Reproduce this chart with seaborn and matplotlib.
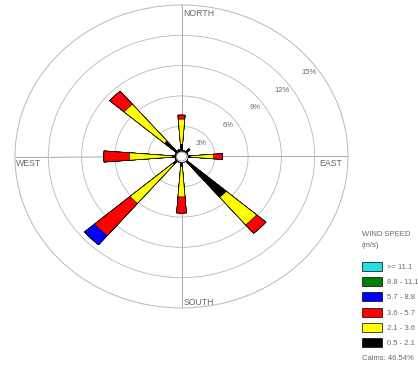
import numpy as np
import pandas as pd
import matplotlib
matplotlib.use("Agg")
import matplotlib.pyplot as plt
import seaborn as sns
from matplotlib.patches import Patch

# ---------------- data ----------------
directions = ["N", "NNE", "NE", "ENE", "E", "ESE", "SE", "SSE",
              "S", "SSW", "SW", "WSW", "W", "WNW", "NW", "NNW"]
direction_deg = [0, 22.5, 45, 67.5, 90, 112.5, 135, 157.5,
                 180, 202.5, 225, 247.5, 270, 292.5, 315, 337.5]
speed_classes = ["0.5 - 2.1", "2.1 - 3.6", "3.6 - 5.7", "5.7 - 8.8", "8.8 - 11.1", ">= 11.1"]
class_colors = ["#000000", "#FFFF00", "#FF0000", "#0000FF", "#008000", "#22E0E0"]

freq_05_21 = [1.2, 0.6, 1.0, 0.6, 0.8, 0.6, 5.3, 0.6, 1.0, 0.6, 1.0, 0.6, 0.8, 0.6, 2.0, 0.7]
freq_21_36 = [2.5, 0.0, 0.0, 0.0, 2.1, 0.0, 3.6, 0.0, 3.0, 0.0, 5.1, 0.0, 3.9, 0.0, 4.8, 0.0]
freq_36_57 = [0.4, 0.0, 0.0, 0.0, 0.8, 0.0, 1.1, 0.0, 1.6, 0.0, 4.2, 0.0, 2.3, 0.0, 1.7, 0.0]
freq_57_88 = [0.0, 0.0, 0.0, 0.0, 0.0, 0.0, 0.0, 0.0, 0.0, 0.0, 1.2, 0.0, 0.0, 0.0, 0.0, 0.0]
freq_88_111 = [0.0] * 16
freq_ge_111 = [0.0] * 16

ring_values = [3, 6, 9, 12, 15]
ring_labels = ["3%", "6%", "9%", "12%", "15%"]
compass_labels = ["NORTH", "EAST", "SOUTH", "WEST"]
legend_title = "WIND SPEED\n(m/s)"
calms_text = "Calms: 46.54%"

# ---------------- styling ----------------
sns.set_style("white")
plt.rcParams["font.family"] = ["Liberation Sans", "DejaVu Sans"]
TXT = "#6a6a6a"
GRID = "#b8b8b8"
CALM_R = 0.45
R_MAX = 15

fig = plt.figure(figsize=(4.18, 3.68), dpi=100)
ax = fig.add_axes([15 / 418, 60 / 368, 333 / 418, 303 / 368], projection="polar")
ax.set_theta_zero_location("N")
ax.set_theta_direction(-1)

classes = [freq_05_21, freq_21_36, freq_36_57, freq_57_88, freq_88_111, freq_ge_111]
cum = np.cumsum(np.array(classes), axis=0)
theta = np.radians(direction_deg)

ax.set_axisbelow(True)
for k in reversed(range(len(classes))):
    df = pd.DataFrame({"theta": theta, "freq": cum[k], "direction": directions})
    sns.barplot(data=df, x="theta", y="freq", native_scale=True, orient="x",
                color=class_colors[k], saturation=1, width=9 / 22.5,
                edgecolor="black", linewidth=0.45, errorbar=None, ax=ax, zorder=3)

# calm circle in centre
tt = np.linspace(0, 2 * np.pi, 120)
ax.fill_between(tt, 0, CALM_R, color="white", zorder=6)
ax.plot(tt, np.full_like(tt, CALM_R), color="#888888", lw=0.5, zorder=7)

ax.set_aspect("auto")
ax.set_position([15 / 418, 60 / 368, 333 / 418, 303 / 368])
ax.set_ylim(0, R_MAX)
ax.set_xticks(np.radians([0, 90, 180, 270]))
ax.set_xticklabels([])
ax.set_yticks(ring_values[:-1])
ax.set_yticklabels([])
ax.set_xlabel("")
ax.set_ylabel("")
ax.xaxis.grid(True, color="#9a9a9a", lw=0.6)
ax.yaxis.grid(True, color=GRID, lw=0.6)
ax.spines["polar"].set_color(GRID)
ax.spines["polar"].set_linewidth(0.7)

# ring labels
for v, lab in zip(ring_values, ring_labels):
    ax.text(np.radians(54), v - 0.8, lab, fontsize=5.5, color=TXT,
            ha="center", va="center", zorder=8)

# compass labels
ax.annotate(compass_labels[0], xy=(0, R_MAX), xytext=(1.5, -5.8), textcoords="offset points",
            ha="left", va="center", fontsize=6.3, color=TXT, annotation_clip=False)
ax.annotate(compass_labels[1], xy=(np.pi / 2, R_MAX), xytext=(-4.3, -5.0), textcoords="offset points",
            ha="right", va="center", fontsize=6.3, color=TXT, annotation_clip=False)
ax.annotate(compass_labels[2], xy=(np.pi, R_MAX), xytext=(1.5, 4.3), textcoords="offset points",
            ha="left", va="center", fontsize=6.3, color=TXT, annotation_clip=False)
ax.annotate(compass_labels[3], xy=(3 * np.pi / 2, R_MAX), xytext=(0.5, -5.0), textcoords="offset points",
            ha="left", va="center", fontsize=6.3, color=TXT, annotation_clip=False)

# legend
fig.text(362 / 418, 1 - 231 / 368, legend_title, fontsize=5.5, color=TXT,
         va="top", ha="left", linespacing=1.8)
handles = [Patch(facecolor=c, edgecolor="black", lw=0.5) for c in reversed(class_colors)]
labels = list(reversed(speed_classes))
leg = fig.legend(handles, labels, loc="upper left", bbox_to_anchor=(362 / 418, 1 - 262 / 368),
                 frameon=False, fontsize=5.5, handlelength=2.6, handleheight=1.45,
                 handletextpad=0.7, labelspacing=0.8, borderpad=0, borderaxespad=0)
for t in leg.get_texts():
    t.set_color(TXT)
fig.text(362 / 418, 1 - 359 / 368, calms_text, fontsize=5.5, color=TXT, va="center", ha="left")

fig.savefig("out.png", dpi=100, facecolor="white")
